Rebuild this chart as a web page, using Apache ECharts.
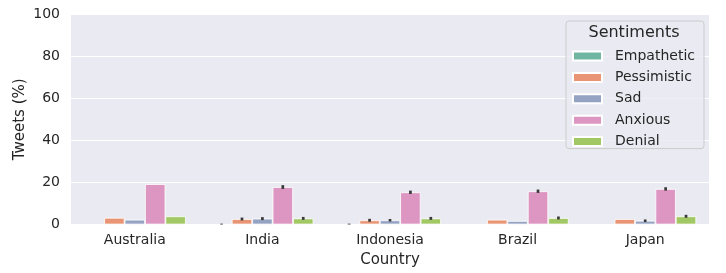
<!DOCTYPE html>
<html><head><meta charset="utf-8">
<script src="https://cdn.jsdelivr.net/npm/echarts@6/dist/echarts.min.js"></script>
<style>html,body{margin:0;padding:0;background:#fff}#c{width:726px;height:273px}</style>
</head><body><div id="c"></div>
<script>
const countries = ['Australia', 'India', 'Indonesia', 'Brazil', 'Japan'];
const sentiments = ['Empathetic', 'Pessimistic', 'Sad', 'Anxious', 'Denial'];
const empathetic = [0, 0.1, 0.1, 0, 0];
const pessimistic = [3.2, 2.6, 2.0, 2.3, 2.6];
const sad = [2.3, 2.8, 2.0, 1.7, 1.8];
const anxious = [19.2, 17.8, 15.3, 15.8, 16.9];
const denial = [3.9, 2.9, 2.9, 3.1, 3.9];
const empatheticErr = [0, 0.3, 0.3, 0, 0];
const pessimisticErr = [0, 0.7, 0.7, 0, 0];
const sadErr = [0, 0.7, 0.6, 0, 0.6];
const anxiousErr = [0, 0.9, 0.8, 0.8, 0.8];
const denialErr = [0, 0.7, 0.7, 0.7, 0.7];
const yTicks = [0, 20, 40, 60, 80, 100];

const values = [empathetic, pessimistic, sad, anxious, denial];
const errs = [empatheticErr, pessimisticErr, sadErr, anxiousErr, denialErr];
const colors = ['#71b6a0', '#e99575', '#95a3c3', '#dc96c1', '#a2c865'];
const txt = '#262626';
const font = 'DejaVu Sans';

const series = sentiments.map((s, i) => ({
  name: s, type: 'bar', data: values[i],
  barGap: '0%', barCategoryGap: '20%',
  itemStyle: { color: colors[i], borderColor: '#ffffff', borderWidth: 0.8 },
  emphasis: { disabled: true }
}));
sentiments.forEach((s, i) => {
  series.push({
    type: 'custom', silent: true, z: 5,
    data: countries.map((c, j) => [j, values[i][j], errs[i][j]]),
    renderItem: function (params, api) {
      const err = api.value(2);
      if (!err) return null;
      const idx = api.value(0), v = api.value(1);
      const band = api.size([1, 0])[0];
      const off = (i - 2) * band * 0.16;
      const lo = api.coord([idx, Math.max(0, v - err)]);
      const hi = api.coord([idx, v + err]);
      return { type: 'line', shape: { x1: lo[0] + off, y1: lo[1], x2: hi[0] + off, y2: hi[1] },
        style: { stroke: '#3a3a3a', lineWidth: 2.7 } };
    }
  });
});

const chart = echarts.init(document.getElementById('c'), null, { renderer: 'canvas' });
chart.setOption({
  animation: false,
  textStyle: { fontFamily: font },
  grid: { left: 71, right: 17, top: 14, bottom: 48.5, show: true, backgroundColor: '#eaeaf2', borderWidth: 0 },
  xAxis: {
    type: 'category', data: countries,
    name: 'Country', nameLocation: 'middle', nameGap: 26,
    nameTextStyle: { color: txt, fontSize: 15, fontFamily: font },
    axisLine: { show: false }, axisTick: { show: false },
    axisLabel: { color: txt, fontSize: 14, fontFamily: font, margin: 9 },
    splitLine: { show: false }
  },
  yAxis: {
    type: 'value', min: yTicks[0], max: yTicks[yTicks.length - 1], interval: 20,
    name: 'Tweets (%)', nameLocation: 'middle', nameGap: 43, nameMoveOverlap: false,
    nameTextStyle: { color: txt, fontSize: 15, fontFamily: font },
    axisLine: { show: false }, axisTick: { show: false },
    axisLabel: { color: txt, fontSize: 14, fontFamily: font, margin: 11 },
    splitLine: { lineStyle: { color: '#ffffff', width: 1 } }
  },
  legend: {
    data: sentiments, orient: 'vertical', left: 566, top: 21,
    icon: 'rect', itemWidth: 29, itemHeight: 9, itemGap: 7.4,
    backgroundColor: 'rgba(234,234,242,0.8)', borderColor: '#cccccc', borderWidth: 1, borderRadius: 3,
    padding: [28, 9, 0, 6],
    textStyle: { color: txt, fontSize: 14, fontFamily: font, lineHeight: 12, padding: [0, 0, 0, 8] }
  },
  graphic: [{
    type: 'text', x: 634, y: 33, z: 100,
    style: { text: 'Sentiments', align: 'center', verticalAlign: 'middle', fill: txt, font: '16px "DejaVu Sans"' }
  }],
  series: series
});
</script></body></html>
